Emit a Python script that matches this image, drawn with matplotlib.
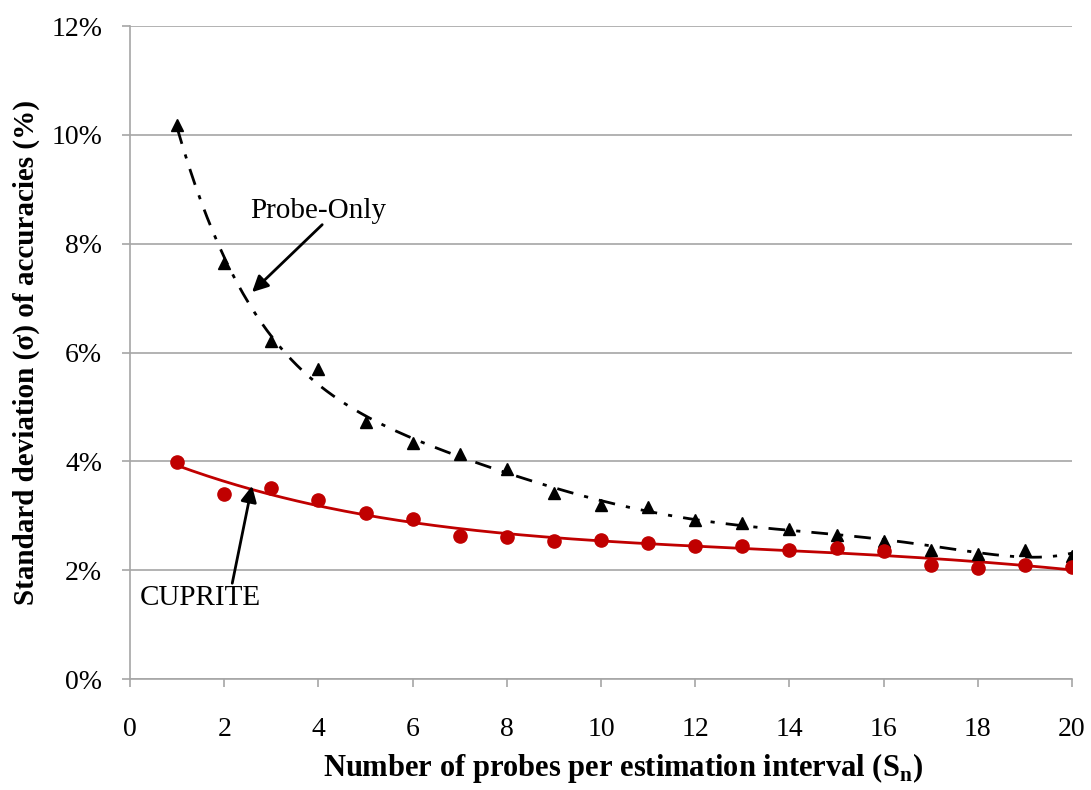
import numpy as np
import matplotlib
matplotlib.use("Agg")
import matplotlib.pyplot as plt
from matplotlib.ticker import FuncFormatter

plt.rcParams["font.family"] = ["Liberation Serif", "DejaVu Serif"]

# probes per estimation interval
sn = np.arange(1, 21)

# standard deviation of accuracies (%)
probe_only = [10.18, 7.65, 6.21, 5.70, 4.72, 4.34, 4.14, 3.86, 3.42, 3.20,
              3.16, 2.92, 2.87, 2.76, 2.65, 2.54, 2.37, 2.30, 2.37, 2.26]
cuprite = [3.99, 3.40, 3.51, 3.29, 3.05, 2.94, 2.63, 2.61, 2.54, 2.56,
           2.50, 2.44, 2.44, 2.37, 2.41, 2.35, 2.10, 2.04, 2.10, 2.06]

y_ticks = [0, 2, 4, 6, 8, 10, 12]
x_ticks = [0, 2, 4, 6, 8, 10, 12, 14, 16, 18, 20]

red = "#C00000"
grey = "#A6A6A6"


def trendPoly(x, y, deg):
    # excel style polynomial trendline
    c = np.polyfit(x, y, deg)
    xs = np.linspace(x[0], x[-1], 300)
    return xs, np.polyval(c, xs)


fig = plt.figure(figsize=(10.91, 7.90), dpi=100)
ax = fig.add_axes([0.1192, 0.1405, 0.8634, 0.8265])

xs, ys = trendPoly(sn, probe_only, 6)
ax.plot(xs, ys, color="black", lw=2, linestyle=(0, (6, 4, 1.5, 4)), zorder=3)
xs, ys = trendPoly(sn, cuprite, 4)
ax.plot(xs, ys, color=red, lw=2, zorder=3)

ax.plot(sn, probe_only, linestyle="none", marker="^", color="black", markersize=9, zorder=4)
ax.plot(sn, cuprite, linestyle="none", marker="o", color=red, markersize=9.5, zorder=4)

ax.set_xlim(0, 20)
ax.set_ylim(0, 12)
ax.set_xticks(x_ticks)
ax.set_yticks(y_ticks)
ax.yaxis.set_major_formatter(FuncFormatter(lambda v, p: "%d%%" % v))
ax.tick_params(axis="both", labelsize=20, color=grey, length=6, width=1.2)
ax.tick_params(axis="y", pad=14)
ax.tick_params(axis="x", pad=21)

ax.grid(axis="y", color=grey, lw=1.2)
ax.set_axisbelow(True)
for s in ["top", "right"]:
    ax.spines[s].set_visible(False)
for s in ["left", "bottom"]:
    ax.spines[s].set_color(grey)
    ax.spines[s].set_linewidth(1.2)

ax.set_ylabel("Standard deviation (σ) of accuracies (%)", fontsize=21, fontweight="bold",
              va="center")
ax.yaxis.set_label_coords((26 - 130) / 942, 0.5)
ax.set_xlabel(r"Number of probes per estimation interval (S$_\mathregular{n}$)",
              fontsize=22, fontweight="bold", va="center")
ax.xaxis.set_label_coords(0.523, -0.136)

arrow = dict(arrowstyle="-|>", color="black", lw=2, mutation_scale=24, shrinkA=0, shrinkB=0)
ax.text(3.99, 8.6, "Probe-Only", fontsize=21, ha="center", va="center")
ax.annotate("", xy=(2.59, 7.11), xytext=(4.08, 8.35), arrowprops=arrow)
ax.text(1.49, 1.49, "CUPRITE", fontsize=21, ha="center", va="center")
ax.annotate("", xy=(2.59, 3.55), xytext=(2.17, 1.76), arrowprops=arrow)

fig.savefig("out.png", dpi=100)
